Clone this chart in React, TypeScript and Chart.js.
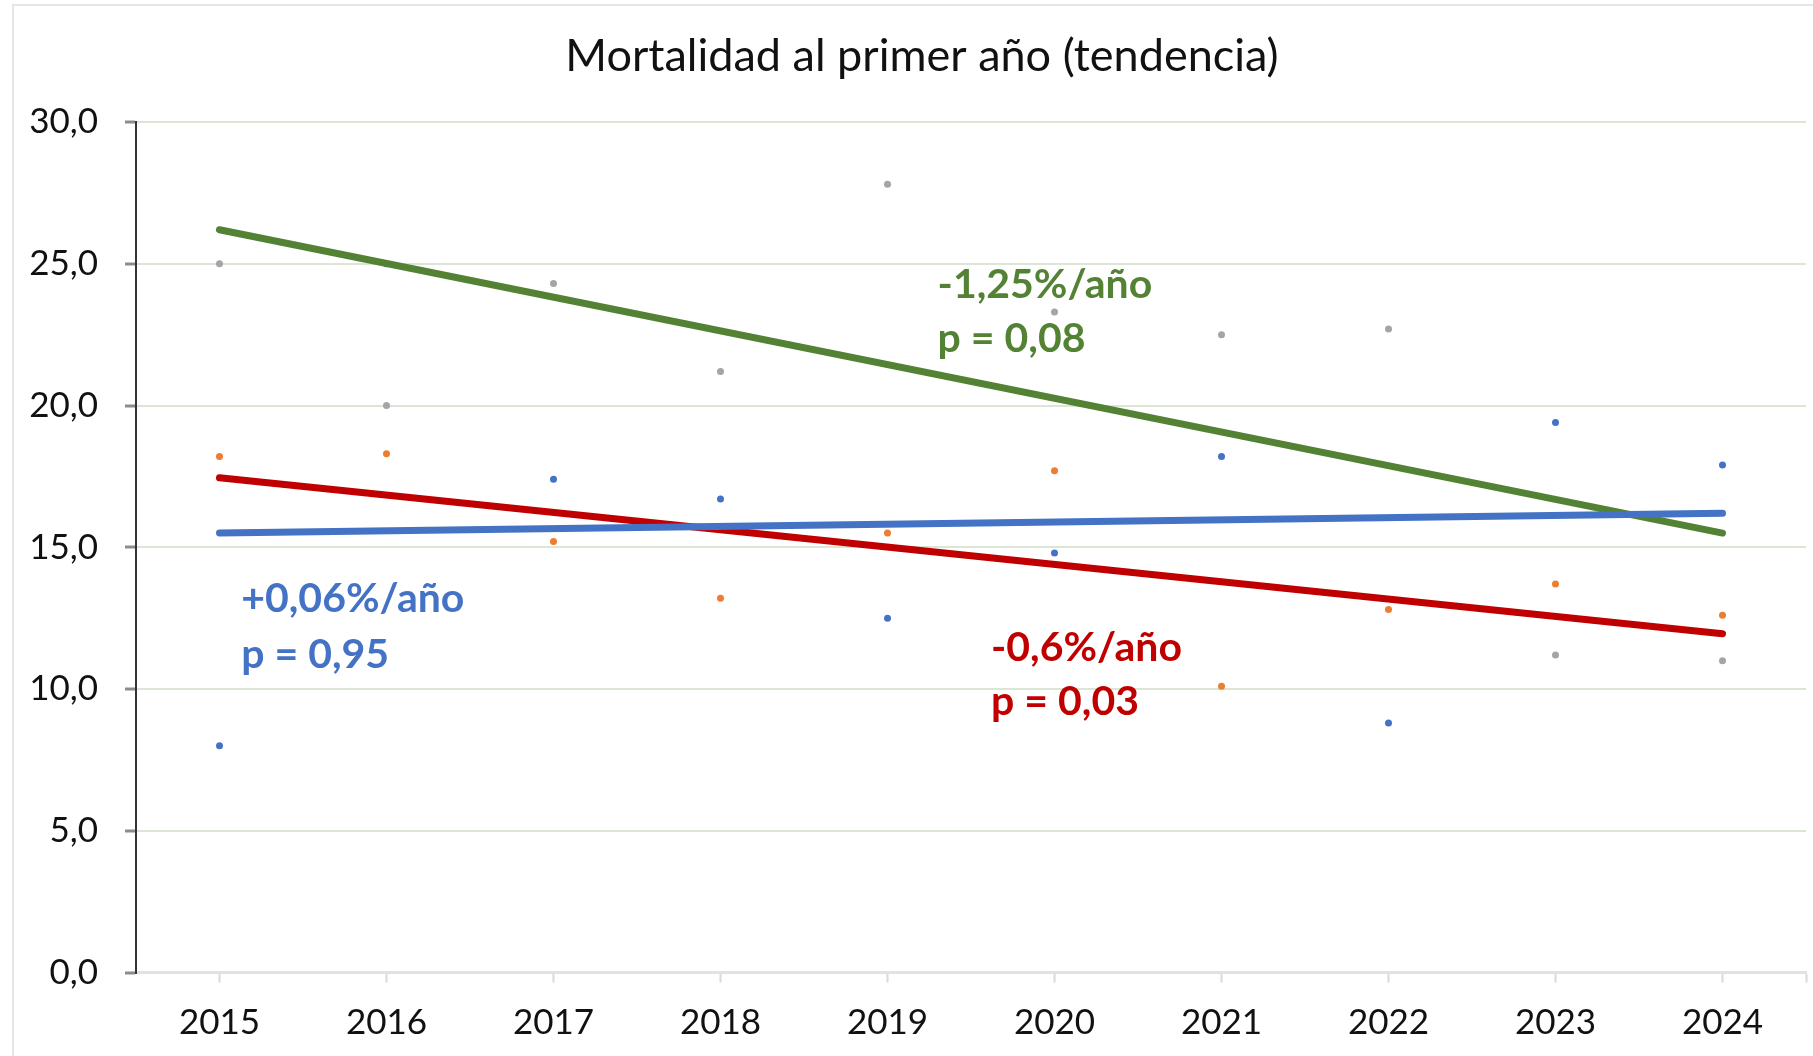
import React, { useEffect, useRef } from "react";
import { Chart, registerables } from "chart.js";

Chart.register(...registerables);

const years = [2015, 2016, 2017, 2018, 2019, 2020, 2021, 2022, 2023, 2024];
const blueValues = [8.0, 25.0, 17.4, 16.7, 12.5, 14.8, 18.2, 8.8, 19.4, 17.9];
const orangeValues = [18.2, 18.3, 15.2, 13.2, 15.5, 17.7, 10.1, 12.8, 13.7, 12.6];
const grayValues = [25.0, 20.0, 24.3, 21.2, 27.8, 23.3, 22.5, 22.7, 11.2, 11.0];

const trendYears = [2015, 2024];
const blueTrend = [15.5, 16.2];
const redTrend = [17.45, 11.95];
const greenTrend = [26.2, 15.5];

const yTicks = [0, 5, 10, 15, 20, 25, 30];

const title = "Mortalidad al primer año (tendencia)";

const blueNote = ["+0,06%/año", "p = 0,95"];
const blueNoteAt = [2015.13, 12.72, 10.73];
const greenNote = ["-1,25%/año", "p = 0,08"];
const greenNoteAt = [2019.3, 23.8, 21.9];
const redNote = ["-0,6%/año", "p = 0,03"];
const redNoteAt = [2019.62, 10.98, 9.07];

const BLUE = "#4472C4";
const ORANGE = "#ED7D31";
const GRAY = "#A5A5A5";
const RED = "#C00000";
const GREEN = "#548235";
const FONT = "Lato, 'Open Sans', sans-serif";

const notes = [
  { lines: blueNote, at: blueNoteAt, color: BLUE },
  { lines: greenNote, at: greenNoteAt, color: GREEN },
  { lines: redNote, at: redNoteAt, color: RED },
];

export default function App() {
  const ref = useRef<HTMLCanvasElement | null>(null);

  useEffect(() => {
    const canvas = ref.current;
    if (!canvas) return;

    const pts = (vals: number[]) => years.map((x, i) => ({ x, y: vals[i] }));
    const trend = (vals: number[]) => trendYears.map((x, i) => ({ x, y: vals[i] }));

    const decor = {
      id: "decor",
      afterDatasetsDraw(chart: any) {
        const { ctx, scales } = chart;
        const xs = scales.x;
        const ys = scales.y;
        ctx.save();
        ctx.font = `bold 41px ${FONT}`;
        ctx.textAlign = "left";
        ctx.textBaseline = "alphabetic";
        for (const n of notes) {
          ctx.fillStyle = n.color;
          const x = xs.getPixelForValue(n.at[0]);
          ctx.fillText(n.lines[0], x, ys.getPixelForValue(n.at[1]));
          ctx.fillText(n.lines[1], x, ys.getPixelForValue(n.at[2]));
        }
        ctx.restore();
      },
      afterDraw(chart: any) {
        const { ctx } = chart;
        ctx.save();
        ctx.font = `45px ${FONT}`;
        ctx.fillStyle = "#111";
        ctx.textAlign = "center";
        ctx.textBaseline = "middle";
        ctx.fillText(title, 922, 56);
        ctx.restore();
      },
    };

    const trendStyle = {
      borderWidth: 7,
      pointRadius: 0,
      borderCapStyle: "round",
      order: 0,
    };
    const pointStyle = {
      showLine: false,
      pointRadius: 3.5,
      pointBorderWidth: 0,
      order: 1,
    };

    const chart = new Chart(canvas, {
      type: "line",
      data: {
        datasets: [
          { label: "blue", data: pts(blueValues), pointBackgroundColor: BLUE, ...pointStyle },
          { label: "orange", data: pts(orangeValues), pointBackgroundColor: ORANGE, ...pointStyle },
          { label: "gray", data: pts(grayValues), pointBackgroundColor: GRAY, ...pointStyle },
          { label: "trendBlue", data: trend(blueTrend), borderColor: BLUE, ...trendStyle },
          { label: "trendRed", data: trend(redTrend), borderColor: RED, ...trendStyle },
          { label: "trendGreen", data: trend(greenTrend), borderColor: GREEN, ...trendStyle },
        ],
      } as any,
      options: {
        animation: false,
        responsive: false,
        events: [],
        layout: { padding: { top: 122, left: 13, right: 7, bottom: 0 } },
        plugins: {
          legend: { display: false },
          title: { display: false },
          tooltip: { enabled: false },
        },
        scales: {
          x: {
            type: "linear",
            min: 2014.5,
            max: 2024.5,
            afterBuildTicks: (scale: any) => {
              scale.ticks = [...years, 2024.5].map((value) => ({ value }));
            },
            afterFit: (scale: any) => {
              scale.height = 83.5;
              scale.paddingLeft = 0;
              scale.paddingRight = 0;
            },
            ticks: {
              autoSkip: false,
              maxRotation: 0,
              padding: 19,
              color: "#111",
              font: { family: FONT, size: 35 },
              callback: (v: any) => (Number.isInteger(v) ? String(v) : ""),
            },
            grid: {
              drawOnChartArea: false,
              drawTicks: true,
              tickLength: 10,
              tickColor: "#d9d9d9",
              tickWidth: 2,
            },
            border: { display: true, color: "#e2e2e2", width: 3 },
          },
          y: {
            type: "linear",
            min: 0,
            max: 30,
            afterBuildTicks: (scale: any) => {
              scale.ticks = yTicks.map((value) => ({ value }));
            },
            afterFit: (scale: any) => {
              scale.width = 123;
            },
            ticks: {
              padding: 27,
              color: "#111",
              font: { family: FONT, size: 35 },
              callback: (v: any) => Number(v).toFixed(1).replace(".", ","),
            },
            grid: {
              color: "#dce6d4",
              lineWidth: 2,
              drawTicks: true,
              tickLength: 11,
              tickColor: "#8c8c8c",
              tickWidth: 3,
            },
            border: { display: true, color: "#333", width: 2 },
          },
        },
      } as any,
      plugins: [decor],
    });

    return () => chart.destroy();
  }, []);

  return (
    <div
      style={{
        position: "fixed",
        left: 0,
        top: 0,
        width: 1813,
        height: 1056,
        background: "#fff",
        overflow: "hidden",
      }}
    >
      <div
        style={{
          position: "absolute",
          left: 12,
          top: 4,
          width: 1900,
          height: 1200,
          border: "2px solid #e6e6e6",
          boxSizing: "border-box",
        }}
      />
      <canvas
        ref={ref}
        width={1813}
        height={1056}
        style={{ position: "absolute", left: 0, top: 0, width: 1813, height: 1056 }}
      />
    </div>
  );
}
